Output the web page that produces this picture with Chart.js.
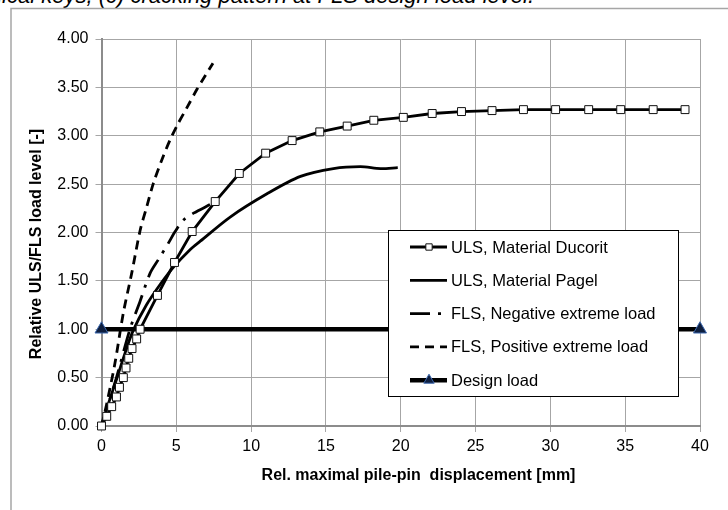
<!DOCTYPE html>
<html>
<head>
<meta charset="utf-8">
<script src="https://cdn.jsdelivr.net/npm/chart.js@4"></script>
<style>
	html, body { margin: 0; padding: 0; background: #fff; overflow: hidden; }
	#wrap { position: relative; width: 728px; height: 510px; overflow: hidden; }
	#caption {
		position: absolute; right: 194px; top: -17px;
		font: italic 22px 'Liberation Sans', Arial, sans-serif; line-height: 26px;
		white-space: nowrap; text-align: right; color: #000;
	}
	canvas { position: absolute; left: 0; top: 0; }
</style>
</head>
<body>
<div id="wrap">
	<div id="caption">(b) mechanical keys, (c) cracking pattern at FLS design load level.</div>
	<canvas id="chart" width="728" height="510"></canvas>
</div>
<script>
// values
const ducoritX = [0, 0.35, 0.68, 1.0, 1.2, 1.46, 1.64, 1.82, 2.04, 2.35, 2.58, 3.74, 4.88, 6.06, 7.6, 9.21, 10.97, 12.74, 14.59, 16.42, 18.2, 20.17, 22.1, 24.06, 26.1, 28.2, 30.35, 32.56, 34.7, 36.87, 39.0]
const ducoritY = [0, 0.10, 0.20, 0.30, 0.40, 0.50, 0.60, 0.70, 0.80, 0.90, 1.00, 1.35, 1.69, 2.01, 2.32, 2.61, 2.82, 2.95, 3.04, 3.10, 3.16, 3.19, 3.23, 3.25, 3.26, 3.27, 3.27, 3.27, 3.27, 3.27, 3.27]

const pagelX = [0, 0.5, 1.0, 1.5, 2.1, 3.0, 4.0, 4.8, 5.9, 6.6, 8.6, 11.06, 13.3, 15.5, 17.3, 18.65, 19.8]
const pagelY = [0, 0.25, 0.48, 0.72, 0.98, 1.25, 1.48, 1.64, 1.82, 1.91, 2.16, 2.40, 2.58, 2.66, 2.68, 2.66, 2.67]

const negativeX = [0, 1.0, 1.9, 2.58, 3.25, 3.8, 4.47, 4.92, 5.48, 6.15, 7.27]
const negativeY = [0, 0.5, 1.0, 1.29, 1.58, 1.72, 1.89, 2.01, 2.13, 2.20, 2.29]

const positiveX = [0, 0.35, 0.9, 1.46, 2.02, 2.58, 3.03, 3.47, 4.03, 4.59, 5.1, 5.71, 6.38, 6.93, 7.45]
const positiveY = [0, 0.23, 0.65, 1.17, 1.58, 2.02, 2.27, 2.51, 2.75, 2.96, 3.12, 3.29, 3.48, 3.62, 3.75]

const designX = [0, 40]
const designY = [1.0, 1.0]

const seriesNames = ['ULS, Material Ducorit', 'ULS, Material Pagel', 'FLS, Negative extreme load', 'FLS, Positive extreme load', 'Design load']
const xTitle = 'Rel. maximal pile-pin  displacement [mm]'
const yTitle = 'Relative ULS/FLS load level [-]'

const FONT = "'Liberation Sans', Arial, sans-serif"
const toPoints = (xs, ys) => xs.map((x, i) => ({ x, y: ys[i] }))

const frame = {
	id: 'frame',
	beforeDraw(chart) {
		const { ctx } = chart
		ctx.save()
		ctx.strokeStyle = '#a6a6a6'
		ctx.lineWidth = 1.5
		ctx.strokeRect(11, 8.5, 900, 700)
		ctx.restore()
	},
}

const titles = {
	id: 'titles',
	afterDraw(chart) {
		const { ctx } = chart
		ctx.save()
		ctx.fillStyle = '#000'
		ctx.font = 'bold 16px ' + FONT
		ctx.textAlign = 'center'
		ctx.textBaseline = 'alphabetic'
		ctx.fillText(xTitle, 418.5, 480)
		ctx.translate(41, 244)
		ctx.rotate(-Math.PI / 2)
		ctx.fillText(yTitle, 0, 0)
		ctx.restore()
	},
}

const boxLegend = {
	id: 'boxLegend',
	afterDraw(chart) {
		const { ctx } = chart
		ctx.save()
		ctx.fillStyle = '#fff'
		ctx.fillRect(388.5, 230.5, 290, 166)
		ctx.strokeStyle = '#000'
		ctx.lineWidth = 1
		ctx.strokeRect(388.5, 230.5, 290, 166)
		chart.data.datasets.forEach((ds, i) => {
			const y = 247 + i * 33.3
			ctx.strokeStyle = ds.borderColor
			ctx.lineWidth = ds.borderWidth
			ctx.setLineDash(ds.borderDash || [])
			ctx.beginPath()
			ctx.moveTo(410, y)
			ctx.lineTo(447, y)
			ctx.stroke()
			ctx.setLineDash([])
			if (ds.pointRadius > 0) {
				ctx.fillStyle = ds.pointBackgroundColor
				ctx.strokeStyle = ds.pointBorderColor
				ctx.lineWidth = ds.pointBorderWidth
				Chart.helpers.drawPoint(ctx, { pointStyle: ds.pointStyle, radius: ds.pointRadius * 0.8, borderWidth: ds.pointBorderWidth, rotation: 0 }, 429, y)
			}
			ctx.fillStyle = '#000'
			ctx.font = '16.5px ' + FONT
			ctx.textAlign = 'left'
			ctx.textBaseline = 'middle'
			ctx.fillText(seriesNames[i], 451, y + 1)
		})
		ctx.restore()
	},
}

new Chart(document.getElementById('chart'), {
	type: 'scatter',
	data: {
		datasets: [
			{
				label: seriesNames[0],
				data: toPoints(ducoritX, ducoritY),
				showLine: true,
				borderColor: '#000',
				borderWidth: 2.8,
				pointStyle: 'rect',
				pointRadius: 5.6,
				pointBackgroundColor: '#fff',
				pointBorderColor: '#111',
				pointBorderWidth: 1,
			},
			{
				label: seriesNames[1],
				data: toPoints(pagelX, pagelY),
				showLine: true,
				tension: 0.3,
				borderColor: '#000',
				borderWidth: 2.8,
				pointRadius: 0,
			},
			{
				label: seriesNames[2],
				data: toPoints(negativeX, negativeY),
				showLine: true,
				tension: 0.3,
				borderColor: '#000',
				borderWidth: 2.8,
				borderDash: [20, 8, 3, 8],
				pointRadius: 0,
			},
			{
				label: seriesNames[3],
				data: toPoints(positiveX, positiveY),
				showLine: true,
				tension: 0.3,
				borderColor: '#000',
				borderWidth: 2.8,
				borderDash: [9, 6],
				pointRadius: 0,
			},
			{
				label: seriesNames[4],
				data: toPoints(designX, designY),
				showLine: true,
				borderColor: '#000',
				borderWidth: 4.5,
				pointStyle: 'triangle',
				pointRadius: 7.5,
				pointBackgroundColor: '#0f1f3f',
				pointBorderColor: '#3a66ad',
				pointBorderWidth: 1,
			},
		],
	},
	options: {
		responsive: false,
		animation: false,
		clip: false,
		layout: { padding: { left: 0, top: 39, right: 28, bottom: 0 } },
		plugins: {
			legend: { display: false },
			tooltip: { enabled: false },
		},
		scales: {
			x: {
				type: 'linear',
				min: 0,
				max: 40,
				afterFit: scale => { scale.height = 84 },
				ticks: { stepSize: 5, color: '#000', padding: 5, font: { family: FONT, size: 16 } },
				grid: { color: '#a6a6a6', lineWidth: 1, tickLength: 6 },
				border: { color: '#8c8c8c', width: 2 },
			},
			y: {
				min: 0,
				max: 4,
				afterFit: scale => { scale.width = 101.5 },
				ticks: { stepSize: 0.5, color: '#000', padding: 7, font: { family: FONT, size: 16 }, callback: v => v.toFixed(2) },
				grid: { color: '#a6a6a6', lineWidth: 1, tickLength: 6 },
				border: { color: '#8c8c8c', width: 2 },
			},
		},
	},
	plugins: [frame, titles, boxLegend],
})
</script>
</body>
</html>
